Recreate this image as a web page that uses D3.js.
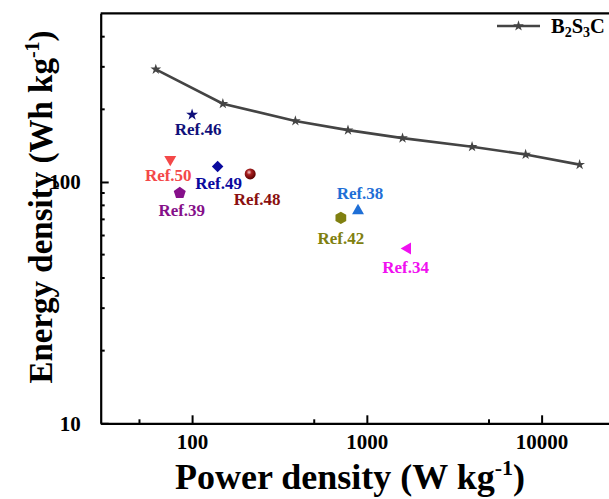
<!DOCTYPE html>
<html>
<head>
  <meta charset="utf-8">
  <script src="https://d3js.org/d3.v7.min.js"></script>
  <style>
    body, html { margin: 0; padding: 0; background: #fff; overflow: hidden; }
    svg { display: block; font-family: "Liberation Serif", "Times New Roman", serif; font-weight: bold; }
  </style>
</head>
<body>
  <svg></svg>
  <script>
    // B2S3C series (power density W/kg, energy density Wh/kg)
    const b2s3cPower = [62, 150, 390, 780, 1600, 4000, 8100, 16500];
    const b2s3cEnergy = [293, 211, 179, 164, 152, 140, 130, 118];

    // literature comparison points
    const refNames = ["Ref.46", "Ref.50", "Ref.49", "Ref.48", "Ref.39", "Ref.38", "Ref.42", "Ref.34"];
    const refPower = [100, 75, 140, 215, 85, 890, 710, 1710];
    const refEnergy = [190, 124, 116, 108, 90, 76, 71, 53];
    const refShapes = ["star", "triDown", "diamond", "sphere", "pentagon", "triUp", "hexagon", "triLeft"];
    const refColors = ["#10107a", "#f44848", "#0a0a9e", "#8a1010", "#86108a", "#1f6fd6", "#808010", "#f010f0"];

    const xTicks = [100, 1000, 10000];
    const xMinor = [50, 500, 5000];
    const yTicks = [10, 100];
    const yMinor = [20, 30, 40, 50, 60, 70, 80, 90, 200, 300, 400];

    // layout
    const width = 609, height = 499;
    const mLeft = 100.7, mRight = 625, mTop = 13.3, mBottom = 423.3;
    // label offset from each marker [dx, dy of text baseline]
    const labelOffsets = [[6, 20], [-2, 22], [1, 23], [7, 31], [2, 23], [2, -12], [0, 26], [-2, 24]];

    const svg = d3.select("svg")
      .attr("width", width)
      .attr("height", height)
      .attr("viewBox", [0, 0, width, height]);

    const x = d3.scaleLog().domain([30, 30000]).range([mLeft, mRight]);
    const y = d3.scaleLog().domain([10, 500]).range([mBottom, mTop]);

    const defs = svg.append("defs");
    const grad = defs.append("radialGradient").attr("id", "ball")
      .attr("cx", "40%").attr("cy", "35%").attr("r", "65%");
    grad.append("stop").attr("offset", "0%").attr("stop-color", "#f4d0d0");
    grad.append("stop").attr("offset", "35%").attr("stop-color", "#a82020");
    grad.append("stop").attr("offset", "100%").attr("stop-color", "#5a0000");

    // frame
    svg.append("line").attr("x1", mLeft).attr("x2", mRight).attr("y1", mTop).attr("y2", mTop)
      .attr("stroke", "#000").attr("stroke-width", 2.2);
    svg.append("line").attr("x1", mRight).attr("x2", mRight).attr("y1", mTop).attr("y2", mBottom)
      .attr("stroke", "#000").attr("stroke-width", 2.2);

    // x axis
    const xAxis = svg.append("g")
      .attr("transform", `translate(0,${mBottom})`)
      .call(d3.axisBottom(x).tickValues(xTicks).tickFormat(d3.format("d"))
        .tickSizeInner(-8).tickSizeOuter(0).tickPadding(11));
    xAxis.append("g").selectAll("line").data(xMinor).join("line")
      .attr("x1", d => x(d)).attr("x2", d => x(d)).attr("y1", 0).attr("y2", -4)
      .attr("stroke", "#000").attr("stroke-width", 2);

    // y axis
    const yAxis = svg.append("g")
      .attr("transform", `translate(${mLeft},0)`)
      .call(d3.axisLeft(y).tickValues(yTicks).tickFormat(d3.format("d"))
        .tickSizeInner(-8).tickSizeOuter(0).tickPadding(20));
    yAxis.append("g").selectAll("line").data(yMinor).join("line")
      .attr("y1", d => y(d)).attr("y2", d => y(d)).attr("x1", 0).attr("x2", 4)
      .attr("stroke", "#000").attr("stroke-width", 2);

    svg.selectAll(".domain").attr("stroke-width", 2.2);
    svg.selectAll(".tick line").attr("stroke-width", 2);
    svg.selectAll(".tick text")
      .attr("font-size", 21).attr("font-weight", "bold")
      .attr("font-family", "'Liberation Serif', serif").attr("fill", "#000");

    // axis titles
    const xTitle = svg.append("text")
      .attr("x", 350).attr("y", 489).attr("text-anchor", "middle")
      .attr("font-size", 36);
    xTitle.append("tspan").text("Power density (W kg");
    xTitle.append("tspan").attr("dy", -14).attr("font-size", 22).text("-1");
    xTitle.append("tspan").attr("dy", 14).text(")");

    const yTitle = svg.append("text")
      .attr("transform", "translate(52,207) rotate(-90)")
      .attr("text-anchor", "middle")
      .attr("font-size", 33);
    yTitle.append("tspan").text("Energy density (Wh kg");
    yTitle.append("tspan").attr("dy", -13).attr("font-size", 20).text("-1");
    yTitle.append("tspan").attr("dy", 13).text(")");

    // B2S3C line
    const series = b2s3cPower.map((p, i) => ({ p, e: b2s3cEnergy[i] }));
    svg.append("path")
      .datum(series)
      .attr("fill", "none")
      .attr("stroke", "#444")
      .attr("stroke-width", 2.6)
      .attr("d", d3.line().x(d => x(d.p)).y(d => y(d.e)));
    svg.append("g").selectAll("path").data(series).join("path")
      .attr("transform", d => `translate(${x(d.p)},${y(d.e)})`)
      .attr("d", d3.symbol(d3.symbolStar, 36))
      .attr("fill", "#444");

    // legend
    svg.append("line").attr("x1", 497).attr("x2", 540).attr("y1", 26).attr("y2", 26)
      .attr("stroke", "#444").attr("stroke-width", 2.6);
    svg.append("path").attr("transform", "translate(518.5,26)")
      .attr("d", d3.symbol(d3.symbolStar, 36)).attr("fill", "#444");
    const leg = svg.append("text").attr("x", 551).attr("y", 33).attr("font-size", 20.5);
    leg.append("tspan").text("B");
    leg.append("tspan").attr("dy", 4).attr("font-size", 14).text("2");
    leg.append("tspan").attr("dy", -4).text("S");
    leg.append("tspan").attr("dy", 4).attr("font-size", 14).text("3");
    leg.append("tspan").attr("dy", -4).text("C");

    // marker shapes
    function polygon(n, r, rot) {
      const pts = d3.range(n).map(i => {
        const a = rot + i * 2 * Math.PI / n;
        return [r * Math.sin(a), -r * Math.cos(a)];
      });
      return "M" + pts.map(p => p.join(",")).join("L") + "Z";
    }
    const tri = d3.symbol(d3.symbolTriangle, 62)();
    const shapePath = {
      star: d3.symbol(d3.symbolStar, 44)(),
      triUp: tri,
      triDown: tri,
      triLeft: tri,
      diamond: d3.symbol(d3.symbolSquare, 66)(),
      pentagon: polygon(5, 6.3, 0),
      hexagon: polygon(6, 6.2, 0)
    };
    const shapeRot = { triDown: 180, triLeft: -90, diamond: 45 };

    const refs = refNames.map((name, i) => ({
      name, p: refPower[i], e: refEnergy[i], shape: refShapes[i], color: refColors[i], off: labelOffsets[i]
    }));

    const g = svg.append("g");
    g.selectAll(".mk").data(refs.filter(d => d.shape !== "sphere")).join("path")
      .attr("class", "mk")
      .attr("transform", d => `translate(${x(d.p)},${y(d.e)}) rotate(${shapeRot[d.shape] || 0})`)
      .attr("d", d => shapePath[d.shape])
      .attr("fill", d => d.color);
    g.selectAll(".ball").data(refs.filter(d => d.shape === "sphere")).join("circle")
      .attr("class", "ball")
      .attr("cx", d => x(d.p)).attr("cy", d => y(d.e)).attr("r", 5.5)
      .attr("fill", "url(#ball)");

    g.selectAll("text").data(refs).join("text")
      .attr("x", d => x(d.p) + d.off[0])
      .attr("y", d => y(d.e) + d.off[1])
      .attr("text-anchor", "middle")
      .attr("font-size", 17)
      .attr("fill", d => d.color)
      .text(d => d.name);
  </script>
</body>
</html>
